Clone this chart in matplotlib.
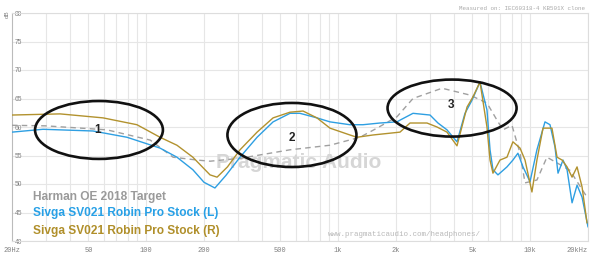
import matplotlib
matplotlib.use("Agg")
import matplotlib.pyplot as plt
from matplotlib.patches import Ellipse

# ---------------- data ----------------
target_f = [20, 30, 62.5, 105, 138, 184, 215, 308, 561, 906, 1298, 1592, 2024, 2452,
            3475, 4858, 5954, 6716, 7214, 8036, 8852, 9398, 10840, 12220, 13800, 16100, 19760]
target_db = [60.3, 60.2, 59.5, 57.7, 54.7, 54.2, 54.0, 54.5, 56.0, 56.8, 58.2, 59.8, 61.8, 65.0,
             66.8, 65.6, 64.2, 61.2, 59.5, 60.3, 55.4, 50.2, 50.7, 54.7, 53.7, 52.4, 47.7]

left_f = [20, 29, 52.8, 79.4, 118, 144.6, 175, 200, 228, 260, 308, 378, 458, 561, 632, 775,
          906, 1151, 1346, 1651, 2024, 2098, 2452, 3008, 3308, 3686, 4156, 4574, 4978, 5476,
          5954, 6177, 6398, 6792, 7568, 8128, 8630, 9172, 9978, 10840, 11940, 12680, 13460,
          13960, 14820, 15560, 16520, 17540, 18620, 20000]
left_db = [59.1, 59.6, 59.3, 58.2, 56.3, 54.7, 52.5, 50.3, 49.3, 51.5, 54.7, 58.2, 60.9, 62.4, 62.4, 61.6,
           60.9, 60.4, 60.4, 60.7, 60.9, 61.2, 62.4, 62.1, 60.7, 59.5, 57.4, 62.4, 64.7, 67.9,
           63.0, 56.0, 52.5, 51.6, 53.0, 54.2, 55.4, 53.0, 50.4, 56.0, 60.9, 60.4, 56.5,
           51.9, 54.2, 52.5, 46.7, 49.8, 47.7, 42.5]

right_f = [20, 35.6, 59.6, 89.5, 118, 144.6, 175, 215, 234, 265, 308, 378, 458, 561, 656, 775,
           906, 1151, 1253, 1518, 2098, 2366, 2900, 3270, 3686, 4156, 4688, 5036, 5476, 5954,
           6177, 6398, 6960, 7568, 8128, 8852, 9398, 10210, 10840, 11660, 12980, 13800, 14660,
           15560, 16520, 17540, 18620, 19760]
right_db = [62.1, 62.3, 61.6, 60.4, 58.2, 56.8, 54.7, 51.6, 51.2, 53.0, 56.0, 59.1, 61.6, 62.6, 62.8, 61.6,
            59.8, 58.6, 58.2, 58.6, 59.1, 60.7, 60.7, 60.0, 59.1, 56.7, 63.5, 65.3, 67.9, 60.0,
            54.2, 51.9, 54.2, 54.7, 57.4, 56.3, 54.2, 48.6, 54.2, 59.8, 59.8, 54.7, 54.2,
            53.0, 51.2, 53.0, 49.5, 43.2]

series_names = ["Harman OE 2018 Target", "Sivga SV021 Robin Pro Stock (L)", "Sivga SV021 Robin Pro Stock (R)"]

y_ticks = [40, 45, 50, 55, 60, 65, 70, 75, 80]
x_ticks = [20, 50, 100, 200, 500, 1000, 2000, 5000, 10000, 20000]
x_labels = ["20Hz", "50", "100", "200", "500", "1k", "2k", "5k", "10k", "20kHz"]
x_grid = [30, 40, 50, 60, 70, 80, 90, 100, 200, 300, 400, 500, 600, 700, 800, 900,
          1000, 2000, 3000, 4000, 5000, 6000, 7000, 8000, 9000, 10000, 20000]

BLUE = "#2e9fe2"
GOLD = "#b2922e"
GRAY = "#9a9a9a"

# ---------------- figure ----------------
fig = plt.figure(figsize=(6.0, 2.6), dpi=100)
ax = fig.add_axes([12/600, 1-241/260, 576/600, 228/260])
ax.set_xscale("log")
ax.set_xlim(20, 20000)
ax.set_ylim(40, 80)

for g in x_grid:
    ax.axvline(g, color="#e6e6e6", lw=0.8, zorder=0)
for t in y_ticks:
    ax.axhline(t, color="#e6e6e6", lw=0.8, zorder=0)

for s in ax.spines.values():
    s.set_color("#dddddd")
    s.set_linewidth(0.8)
ax.spines["left"].set_color("#bbbbbb")

ax.set_xticks([])
ax.minorticks_off()
ax.set_xticks([], minor=True)
ax.set_yticks(y_ticks)
ax.set_yticklabels([str(t) for t in y_ticks], fontsize=4.8, color="#808080", family="Liberation Sans")
ax.tick_params(axis="y", length=0, pad=-2)
for lab in ax.get_yticklabels():
    lab.set_ha("left")

xt = ax.get_xaxis_transform()
for i, (v, lab) in enumerate(zip(x_ticks, x_labels)):
    ax.text(v, -0.04, lab, transform=xt, ha="right" if i == len(x_ticks)-1 else "center",
            va="center", fontsize=5, color="#808080", family="Liberation Mono")

# watermark (behind curves)
ax.text(299/600, 1-163/260, "Pragmatic Audio", transform=fig.transFigure, fontsize=15,
        fontweight="bold", color="#d6d6d6", ha="center", va="center",
        family="Liberation Sans", zorder=1)
fig.text(328/600, 1-235/260, "www.pragmaticaudio.com/headphones/", fontsize=5.4,
         color="#b8b8b8", ha="left", va="center", family="Liberation Mono")
fig.text(585/600, 1-8/260, "Measured on: IEC60318-4 KB501X clone", fontsize=4.2,
         color="#aaaaaa", ha="right", va="center", family="Liberation Mono")
fig.text(7/600, 1-14/260, "dB", fontsize=4.5, color="#808080", rotation=90,
         ha="center", va="center", family="Liberation Sans")

# curves
ax.plot(target_f, target_db, color="#a0a0a0", lw=1.0, ls=(0, (4, 3)), zorder=3)
ax.plot(left_f, left_db, color=BLUE, lw=1.0, zorder=4)
ax.plot(right_f, right_db, color=GOLD, lw=1.0, zorder=4)

# ellipses + numbers
ells = [((0.151, 0.487), 0.222, 0.254, "1", (0.149, 0.487)),
        ((0.486, 0.465), 0.224, 0.281, "2", (0.486, 0.452)),
        ((0.764, 0.583), 0.224, 0.250, "3", (0.762, 0.596))]
for c, w, h, lab, tp in ells:
    ax.add_patch(Ellipse(c, w, h, transform=ax.transAxes, fill=False, ec="#111111", lw=1.9, zorder=5))
    ax.text(tp[0], tp[1], lab, transform=ax.transAxes, fontsize=8.5, fontweight="bold",
            color="#222222", ha="center", va="center", zorder=6, family="Liberation Sans")

# legend text
for name, col, py in zip(series_names, [GRAY, "#27a0e6", "#b08f2a"], [197, 213, 231]):
    fig.text(33/600, 1-py/260, name, fontsize=8.6, fontweight="bold", color=col,
             ha="left", va="center", family="Liberation Sans")

fig.savefig("out.png", dpi=100)
